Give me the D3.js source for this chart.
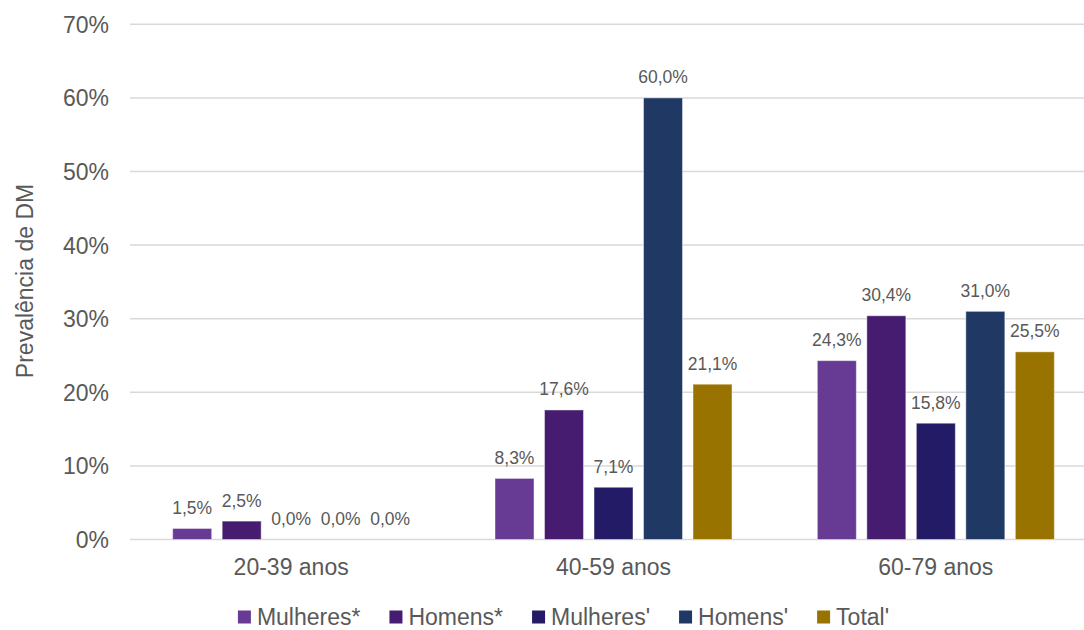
<!DOCTYPE html>
<html>
<head>
<meta charset="utf-8">
<script src="https://cdn.jsdelivr.net/npm/d3@7"></script>
<style>
  html, body { margin: 0; padding: 0; background: #ffffff; }
  svg { display: block; }
  text { font-family: "Liberation Sans", Arial, sans-serif; fill: #595959; }
</style>
</head>
<body>
<svg id="chart" width="1084" height="630"></svg>
<script>
const categories = ["20-39 anos", "40-59 anos", "60-79 anos"];
const seriesNames = ["Mulheres*", "Homens*", "Mulheres'", "Homens'", "Total'"];
const seriesColors = ["#673A94", "#461C70", "#231B66", "#203864", "#997300"];
const mulheresStar = [1.5, 8.3, 24.3];
const homensStar = [2.5, 17.6, 30.4];
const mulheresPrime = [0.0, 7.1, 15.8];
const homensPrime = [0.0, 60.0, 31.0];
const totalPrime = [0.0, 21.1, 25.5];
const yTicks = [0, 10, 20, 30, 40, 50, 60, 70];
const yTitle = "Prevalência de DM";

const seriesValues = [mulheresStar, homensStar, mulheresPrime, homensPrime, totalPrime];

const svg = d3.select("#chart");
const fmt = v => v.toFixed(1).replace(".", ",") + "%";

const x0 = d3.scaleBand().domain(categories).range([130, 1097]).padding(0);
const x1 = d3.scaleBand().domain(seriesNames).range([-123.75, 123.75])
  .paddingInner(0.212).paddingOuter(0.106);
const y = d3.scaleLinear().domain([0, 70]).range([539.5, 24.3]);

// gridlines
svg.append("g").selectAll("line").data(yTicks).join("line")
  .attr("x1", 130).attr("x2", 1097)
  .attr("y1", d => y(d)).attr("y2", d => y(d))
  .attr("stroke", "#d9d9d9").attr("stroke-width", 1.5);

// y tick labels
svg.append("g").selectAll("text").data(yTicks).join("text")
  .attr("x", 109).attr("y", d => y(d) + 8.5)
  .attr("text-anchor", "end")
  .style("font-size", "23px")
  .text(d => d + "%");

// y title
svg.append("text")
  .attr("transform", "translate(33,281) rotate(-90)")
  .attr("text-anchor", "middle")
  .style("font-size", "23px")
  .text(yTitle);

// bars
const data = [];
categories.forEach((c, i) => {
  seriesNames.forEach((s, j) => {
    data.push({ cat: c, ser: s, val: seriesValues[j][i], color: seriesColors[j] });
  });
});

const cx = d => x0(d.cat) + x0.bandwidth() / 2 + x1(d.ser);

svg.append("g").selectAll("rect").data(data.filter(d => d.val > 0)).join("rect")
  .attr("x", d => cx(d))
  .attr("y", d => y(d.val))
  .attr("width", x1.bandwidth())
  .attr("height", d => y(0) - y(d.val))
  .attr("fill", d => d.color)
  .attr("stroke", "rgba(255,255,255,0.45)")
  .attr("stroke-width", 1);

// data labels
svg.append("g").selectAll("text").data(data).join("text")
  .attr("x", d => cx(d) + x1.bandwidth() / 2)
  .attr("y", d => y(d.val) - 14.5)
  .attr("text-anchor", "middle")
  .style("font-size", "17.5px")
  .text(d => fmt(d.val));

// category labels
svg.append("g").selectAll("text").data(categories).join("text")
  .attr("x", d => x0(d) + x0.bandwidth() / 2)
  .attr("y", 575)
  .attr("text-anchor", "middle")
  .style("font-size", "23px")
  .text(d => d);

// legend
const legend = svg.append("g");
const items = legend.selectAll("g").data(seriesNames).join("g");
items.append("rect")
  .attr("width", 13).attr("height", 13)
  .attr("y", 610.5)
  .attr("fill", (d, i) => seriesColors[i]);
items.append("text")
  .attr("x", 19).attr("y", 624.5)
  .style("font-size", "23px")
  .text(d => d);
let widths = [];
items.each(function () {
  widths.push(19 + d3.select(this).select("text").node().getComputedTextLength());
});
const gap = 29;
const total = d3.sum(widths) + gap * (widths.length - 1);
let start = 563.5 - total / 2;
items.attr("transform", (d, i) => {
  const t = "translate(" + start + ",0)";
  start += widths[i] + gap;
  return t;
});
</script>
</body>
</html>
